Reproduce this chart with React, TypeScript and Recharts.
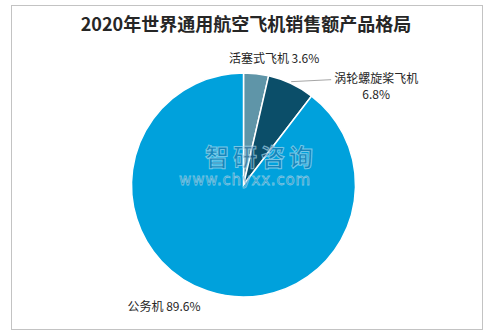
import { PieChart, Pie, Cell } from "recharts"

const categories = ["活塞式飞机", "涡轮螺旋桨飞机", "公务机"]
const shares = [3.6, 6.8, 89.6]
const COLORS = ["#5f95a8", "#0b4e69", "#00a1dc"]

const data = categories.map((name, i) => ({ name, value: shares[i] }))

const RADIAN = Math.PI / 180

// label placement relative to the slice's outer midpoint
function renderLabel(props: any) {
  const { cx, cy, midAngle, outerRadius, index, name, value } = props
  const x = cx + outerRadius * Math.cos(-midAngle * RADIAN)
  const y = cy + outerRadius * Math.sin(-midAngle * RADIAN)
  const txt = { fontFamily: "'Noto Sans CJK SC', sans-serif", fontSize: 12, fill: "#262626" }

  if (index === 0) {
    return (
      <text x={x + 18} y={y - 16} textAnchor="middle" dominantBaseline="central" style={txt}>
        {`${name} ${value}%`}
      </text>
    )
  }
  if (index === 1) {
    return (
      <g>
        <polyline points={`${x},${y - 2} ${x + 40},${y - 4}`} stroke="#a6a6a6" fill="none" />
        <text x={x + 85} y={y - 6} textAnchor="middle" dominantBaseline="central" style={txt}>
          {name}
        </text>
        <text x={x + 85} y={y + 10} textAnchor="middle" dominantBaseline="central" style={txt}>
          {`${value}%`}
        </text>
      </g>
    )
  }
  return (
    <text x={x - 7} y={y + 14} textAnchor="end" dominantBaseline="central" style={txt}>
      {`${name} ${value}%`}
    </text>
  )
}

export default function App() {
  return (
    <div style={{ position: "absolute", left: 0, top: 0, width: 492, height: 336, background: "#fff" }}>
      <div
        style={{
          position: "absolute",
          left: 11,
          top: 5,
          width: 470,
          height: 323,
          border: "1px solid #c3c3c3",
        }}
      />
      <div
        style={{
          position: "absolute",
          left: 0,
          top: 11,
          width: 492,
          textAlign: "center",
          fontFamily: "'Noto Sans CJK SC', sans-serif",
          fontWeight: "bold",
          fontSize: 18,
          lineHeight: "24px",
          color: "#262626",
        }}
      >
        2020年世界通用航空飞机销售额产品格局
      </div>
      <div style={{ position: "absolute", left: 0, top: 0 }}>
        <PieChart width={492} height={336} margin={{ top: 0, right: 0, bottom: 0, left: 0 }}>
          <Pie
            data={data}
            dataKey="value"
            nameKey="name"
            cx={243.5}
            cy={185}
            outerRadius={112}
            startAngle={90}
            endAngle={-270}
            stroke="#fff"
            strokeWidth={1.5}
            labelLine={false}
            label={renderLabel}
            isAnimationActive={false}
          >
            {data.map((entry, index) => (
              <Cell key={`cell-${index}`} fill={COLORS[index % COLORS.length]} />
            ))}
          </Pie>
        </PieChart>
      </div>
      {/* watermark */}
      <svg width={492} height={336} style={{ position: "absolute", left: 0, top: 0, pointerEvents: "none" }}>
        <text
          x={261}
          y={155}
          textAnchor="middle"
          dominantBaseline="central"
          style={{ fontFamily: "'Noto Sans CJK SC', sans-serif", fontSize: 24, fontWeight: "bold", letterSpacing: 4 }}
          fill="rgba(45,105,155,0.5)"
          stroke="rgba(190,235,250,0.6)"
          strokeWidth={1}
        >
          智研咨询
        </text>
        <text
          x={245}
          y={180}
          textAnchor="middle"
          dominantBaseline="central"
          style={{ fontFamily: "'DejaVu Sans', sans-serif", fontSize: 15, letterSpacing: 0.8 }}
          fill="rgba(45,105,155,0.5)"
          stroke="rgba(190,235,250,0.6)"
          strokeWidth={0.8}
        >
          www.chyxx.com
        </text>
      </svg>
    </div>
  )
}
